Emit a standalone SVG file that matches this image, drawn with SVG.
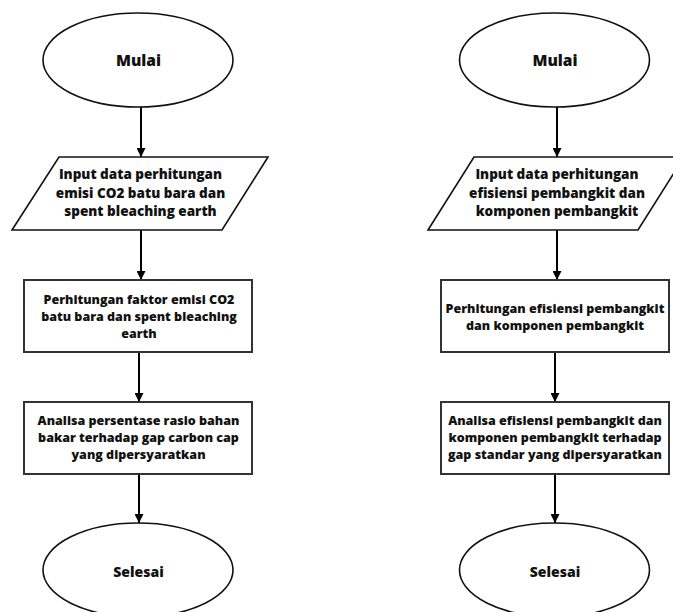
<svg xmlns="http://www.w3.org/2000/svg" width="673" height="612" viewBox="0 0 673 612">
<defs>
<marker id="ah" markerUnits="userSpaceOnUse" markerWidth="9" markerHeight="9" refX="9" refY="4.5" orient="auto">
<path d="M0,0 L9,4.5 L0,9 z" fill="#000"/>
</marker>
<style>
.sh{fill:#fff;stroke:#111;stroke-width:1.6}
.bx{fill:#fff;stroke:#333;stroke-width:2}
.t{font-family:"Open Sans","Noto Sans",sans-serif;font-weight:800;font-size:13.5px;fill:#111;text-anchor:middle}
.tb{font-family:"Open Sans","Noto Sans",sans-serif;font-weight:800;font-size:12.5px;fill:#111;text-anchor:middle}
.tl{font-family:"Open Sans","Noto Sans",sans-serif;font-weight:800;font-size:15.5px;fill:#111;text-anchor:middle}
.te{font-family:"Open Sans","Noto Sans",sans-serif;font-weight:800;font-size:14px;fill:#111;text-anchor:middle}
.c{stroke:#000;stroke-width:2;fill:none;marker-end:url(#ah)}
</style>
</defs>
<rect width="673" height="612" fill="#fff"/>
<g id="connectors">
<line class="c" x1="141" y1="107" x2="141" y2="157"/>
<line class="c" x1="141" y1="230" x2="141" y2="280"/>
<line class="c" x1="139" y1="352" x2="139" y2="402"/>
<line class="c" x1="139" y1="474" x2="139" y2="523"/>
<line class="c" x1="557" y1="107" x2="557" y2="157"/>
<line class="c" x1="557" y1="230" x2="557" y2="280"/>
<line class="c" x1="555" y1="352" x2="555" y2="402"/>
<line class="c" x1="555" y1="474" x2="555" y2="523"/>
</g>
<g id="l-start">
<ellipse class="sh" cx="138" cy="60" rx="95" ry="47"/>
<text class="tl" x="138.5" y="66">Mulai</text>
</g>
<g id="l-input">
<polygon class="sh" points="59,157 268,157 222,230 12,230"/>
<text class="t" x="140.5" y="179">Input data perhitungan</text>
<text class="t" x="140.5" y="198">emisi CO2 batu bara dan</text>
<text class="t" x="140.5" y="216">spent bleaching earth</text>
</g>
<g id="l-calc">
<rect class="bx" x="24" y="280" width="228" height="72"/>
<text class="tb" x="139" y="304">Perhitungan faktor emisi CO2</text>
<text class="tb" x="139" y="321">batu bara dan spent bleaching</text>
<text class="tb" x="139" y="338">earth</text>
</g>
<g id="l-analysis">
<rect class="bx" x="24" y="402" width="228" height="72"/>
<text class="tb" x="138.5" y="425">Analisa persentase rasio bahan</text>
<text class="tb" x="138.5" y="442">bakar terhadap gap carbon cap</text>
<text class="tb" x="138.5" y="459">yang dipersyaratkan</text>
</g>
<g id="l-end">
<ellipse class="sh" cx="138" cy="570" rx="95" ry="47"/>
<text class="te" x="138.5" y="577">Selesai</text>
</g>
<g id="r-start">
<ellipse class="sh" cx="554.5" cy="60" rx="95" ry="47"/>
<text class="tl" x="555" y="66">Mulai</text>
</g>
<g id="r-input">
<polygon class="sh" points="474,157 684,157 638,230 428,230"/>
<text class="t" x="557" y="179">Input data perhitungan</text>
<text class="t" x="557" y="198">efisiensi pembangkit dan</text>
<text class="t" x="557" y="216">komponen pembangkit</text>
</g>
<g id="r-calc">
<rect class="bx" x="441" y="280" width="228" height="72"/>
<text class="tb" x="555" y="313">Perhitungan efisiensi pembangkit</text>
<text class="tb" x="555" y="330">dan komponen pembangkit</text>
</g>
<g id="r-analysis">
<rect class="bx" x="441" y="402" width="228" height="72"/>
<text class="tb" x="555" y="425">Analisa efisiensi pembangkit dan</text>
<text class="tb" x="555" y="442">komponen pembangkit terhadap</text>
<text class="tb" x="555" y="459">gap standar yang dipersyaratkan</text>
</g>
<g id="r-end">
<ellipse class="sh" cx="554.5" cy="570" rx="95" ry="47"/>
<text class="te" x="555" y="577">Selesai</text>
</g>
</svg>
